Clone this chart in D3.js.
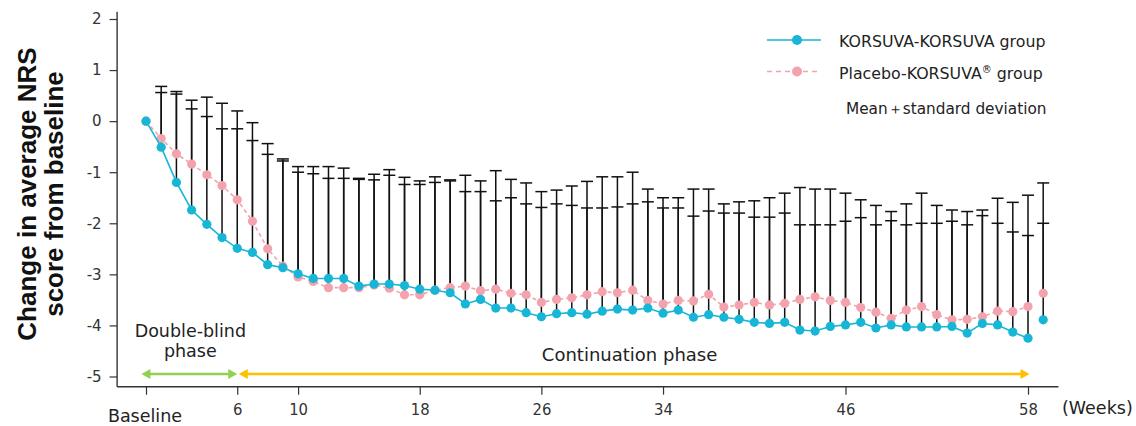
<!DOCTYPE html>
<html>
<head>
<meta charset="utf-8">
<script src="https://cdn.jsdelivr.net/npm/d3@7"></script>
<style>
  html, body { margin: 0; padding: 0; background: #fff; }
  svg { display: block; }
  .axis text { font-family: "DejaVu Sans", Verdana, sans-serif; fill: #333; }
  .xaxis text { font-family: "DejaVu Sans Condensed", "DejaVu Sans", sans-serif; font-stretch: condensed; }
</style>
</head>
<body>
<div id="chart"></div>
<script>
// NRS change from baseline, KORSUVA vs placebo -> KORSUVA

const weeks = [0, 1, 2, 3, 4, 5, 6, 7, 8, 9, 10, 11, 12, 13, 14, 15, 16, 17, 18, 19,
  20, 21, 22, 23, 24, 25, 26, 27, 28, 29, 30, 31, 32, 33, 34, 35, 36, 37, 38, 39,
  40, 41, 42, 43, 44, 45, 46, 47, 48, 49, 50, 51, 52, 53, 54, 55, 56, 57, 58, 59];
const lastVisitWeek = 58; // the point after it is drawn on its own

const korsuvaMean = [0, -0.51, -1.20, -1.74, -2.02, -2.28, -2.49, -2.57, -2.81, -2.87,
  -2.99, -3.08, -3.08, -3.08, -3.23, -3.19, -3.19, -3.22, -3.29, -3.31,
  -3.36, -3.58, -3.49, -3.66, -3.66, -3.75, -3.83, -3.77, -3.75, -3.78,
  -3.72, -3.68, -3.70, -3.66, -3.76, -3.70, -3.84, -3.79, -3.84, -3.88,
  -3.94, -3.96, -3.94, -4.09, -4.11, -4.02, -3.99, -3.94, -4.05, -3.99,
  -4.03, -4.03, -4.03, -4.02, -4.15, -3.96, -3.99, -4.13, -4.25, -3.89];

const placeboMean = [0, -0.34, -0.64, -0.84, -1.05, -1.26, -1.54, -1.96, -2.50, -2.84,
  -3.05, -3.14, -3.26, -3.26, -3.26, -3.21, -3.27, -3.40, -3.40, -3.31,
  -3.26, -3.23, -3.32, -3.29, -3.37, -3.40, -3.55, -3.49, -3.46, -3.40,
  -3.34, -3.36, -3.31, -3.51, -3.58, -3.51, -3.52, -3.39, -3.64, -3.60,
  -3.55, -3.60, -3.57, -3.49, -3.44, -3.51, -3.55, -3.65, -3.74, -3.86,
  -3.70, -3.63, -3.79, -3.89, -3.88, -3.83, -3.72, -3.73, -3.63, -3.37];

// mean + standard deviation (no bar at baseline)
const korsuvaUpper = [null, 0.68, 0.58, 0.41, 0.47, 0.35, 0.20, -0.03, -0.44, -0.74,
  -0.89, -0.89, -0.89, -0.92, -1.12, -1.04, -0.95, -1.10, -1.17, -1.09,
  -1.15, -1.06, -1.17, -0.97, -1.14, -1.21, -1.38, -1.35, -1.27, -1.18,
  -1.09, -1.09, -1.00, -1.33, -1.50, -1.50, -1.33, -1.33, -1.62, -1.58,
  -1.56, -1.50, -1.41, -1.30, -1.33, -1.33, -1.41, -1.54, -1.65, -1.77,
  -1.62, -1.41, -1.65, -1.74, -1.77, -1.74, -1.51, -1.59, -1.45, -1.21];

const placeboUpper = [null, 0.56, 0.53, 0.24, 0.09, -0.15, -0.15, -0.38, -0.65, -0.78,
  -1.00, -1.03, -1.12, -1.12, -1.14, -1.15, -1.06, -1.24, -1.24, -1.20,
  -1.17, -1.38, -1.38, -1.56, -1.50, -1.62, -1.69, -1.62, -1.65, -1.70,
  -1.70, -1.68, -1.62, -1.58, -1.70, -1.70, -1.86, -1.76, -1.80, -1.80,
  -1.88, -1.88, -1.80, -2.03, -2.03, -2.03, -1.96, -1.89, -2.03, -1.95,
  -2.03, -2.00, -2.00, -1.96, -2.03, -1.85, -2.00, -2.17, -2.24, -2.00];

const xTicks = [0, 6, 10, 18, 26, 34, 46, 58];
const yTicks = [-5, -4, -3, -2, -1, 0, 1, 2];

const phases = [
  { label: ['Double-blind', 'phase'], start: -0.3, end: 6, color: '#92d050' },
  { label: ['Continuation phase'], start: 6.1, end: 58.1, color: '#ffc000' }
];

const KORSUVA_COLOR = '#17b6d6';
const PLACEBO_COLOR = '#f3a3ad';

const W = 1136, H = 426;
const svg = d3.select('#chart').append('svg').attr('width', W).attr('height', H);

const x = d3.scaleLinear().domain([0, 58]).range([146, 1028]);
const y = d3.scaleLinear().domain([-5, 2]).range([376.5, 19]);

const xAxisY = y(-5.2);
const yAxisX = x(-1.9);

// build rows
const rows = weeks.map(function (w, i) {
  return {
    week: w,
    korsuva: korsuvaMean[i],
    placebo: placeboMean[i],
    kUp: korsuvaUpper[i],
    pUp: placeboUpper[i]
  };
});
const visitRows = rows.filter(function (d) { return d.week <= lastVisitWeek; });

// y axis (plain hyphen for negatives, like the original)
const yAxisG = svg.append('g').attr('class', 'axis yaxis')
  .attr('transform', 'translate(' + yAxisX + ',0)')
  .call(d3.axisLeft(y).tickValues(yTicks).tickSize(7.5).tickPadding(8)
    .tickFormat(function (d) { return String(d); }));
yAxisG.select('.domain').remove();
yAxisG.selectAll('line').attr('stroke', '#333').attr('stroke-width', 1.2);
yAxisG.selectAll('text').style('font-size', '15px');
svg.append('line')
  .attr('x1', yAxisX).attr('x2', yAxisX)
  .attr('y1', y(2.14)).attr('y2', xAxisY)
  .attr('stroke', '#333').attr('stroke-width', 1.4);

// x axis
const xAxisG = svg.append('g').attr('class', 'axis xaxis')
  .attr('transform', 'translate(0,' + xAxisY + ')')
  .call(d3.axisBottom(x).tickValues(xTicks).tickSize(8).tickPadding(9)
    .tickFormat(function (d) { return d === 0 ? '' : d; }));
xAxisG.select('.domain').remove();
xAxisG.selectAll('line').attr('stroke', '#333').attr('stroke-width', 1.2);
xAxisG.selectAll('text').style('font-size', '16.5px');
svg.append('line')
  .attr('x1', yAxisX).attr('x2', x(60))
  .attr('y1', xAxisY).attr('y2', xAxisY)
  .attr('stroke', '#333').attr('stroke-width', 1.4);

svg.append('text')
  .attr('x', x(0) - 1).attr('y', 422)
  .attr('text-anchor', 'middle')
  .style('font-family', '"DejaVu Sans", sans-serif')
  .style('font-size', '17.5px').style('fill', '#222')
  .text('Baseline');

svg.append('text')
  .attr('x', 1062).attr('y', 414)
  .style('font-family', '"DejaVu Sans", sans-serif')
  .style('font-size', '17.5px').style('fill', '#222')
  .text('(Weeks)');

// y title
const yTitle = svg.append('text')
  .attr('transform', 'translate(36,194) rotate(-90)')
  .attr('text-anchor', 'middle')
  .style('font-family', '"Liberation Sans", Arial, sans-serif')
  .style('font-weight', 'bold')
  .style('font-size', '26px')
  .style('fill', '#111');
yTitle.append('tspan').attr('x', 0).attr('dy', 0).text('Change in average NRS');
yTitle.append('tspan').attr('x', 0).attr('dy', 27).text('score from baseline');

// phase arrows
phases.forEach(function (p) {
  const x1 = x(p.start), x2 = x(p.end), yy = y(-5) - 2.5;
  const g = svg.append('g');
  g.append('line')
    .attr('x1', x1 + 6).attr('x2', x2 - 6)
    .attr('y1', yy).attr('y2', yy)
    .attr('stroke', p.color).attr('stroke-width', 2.5);
  g.append('path')
    .attr('d', 'M' + x1 + ',' + yy + 'L' + (x1 + 9) + ',' + (yy - 5) + 'L' + (x1 + 9) + ',' + (yy + 5) + 'Z')
    .attr('fill', p.color);
  g.append('path')
    .attr('d', 'M' + x2 + ',' + yy + 'L' + (x2 - 9) + ',' + (yy - 5) + 'L' + (x2 - 9) + ',' + (yy + 5) + 'Z')
    .attr('fill', p.color);
});

const phaseText = svg.append('g')
  .style('font-family', '"DejaVu Sans", sans-serif')
  .style('fill', '#222');
phaseText.append('text')
  .attr('x', (x(-0.3) + x(6)) / 2 + 1).attr('y', 337)
  .attr('text-anchor', 'middle').style('font-size', '17.5px')
  .text(phases[0].label[0]);
phaseText.append('text')
  .attr('x', (x(-0.3) + x(6)) / 2 + 1).attr('y', 357)
  .attr('text-anchor', 'middle').style('font-size', '17.5px')
  .text(phases[0].label[1]);
phaseText.append('text')
  .attr('x', x(31.8)).attr('y', 361)
  .attr('text-anchor', 'middle')
  .style('font-size', '18px')
  .text(phases[1].label[0]);

// error bars (mean -> mean + SD), both groups in black
const CAP = 6;
const bars = svg.append('g').attr('class', 'errorbars')
  .attr('stroke', '#111').attr('stroke-width', 1.5);
['korsuva', 'placebo'].forEach(function (key) {
  const upKey = key === 'korsuva' ? 'kUp' : 'pUp';
  const withBar = rows.filter(function (d) { return d[upKey] !== null; });
  bars.selectAll('.v-' + key).data(withBar).enter().append('line')
    .attr('x1', function (d) { return x(d.week); })
    .attr('x2', function (d) { return x(d.week); })
    .attr('y1', function (d) { return y(d[key]); })
    .attr('y2', function (d) { return y(d[upKey]); });
  bars.selectAll('.c-' + key).data(withBar).enter().append('line')
    .attr('x1', function (d) { return x(d.week) - CAP; })
    .attr('x2', function (d) { return x(d.week) + CAP; })
    .attr('y1', function (d) { return y(d[upKey]); })
    .attr('y2', function (d) { return y(d[upKey]); });
});

// placebo -> KORSUVA group (dashed)
const lineP = d3.line().x(function (d) { return x(d.week); }).y(function (d) { return y(d.placebo); });
svg.append('path').datum(visitRows)
  .attr('d', lineP).attr('fill', 'none')
  .attr('stroke', PLACEBO_COLOR).attr('stroke-width', 1.6)
  .attr('stroke-dasharray', '4,3');
svg.append('g').selectAll('circle').data(rows).enter().append('circle')
  .attr('cx', function (d) { return x(d.week); })
  .attr('cy', function (d) { return y(d.placebo); })
  .attr('r', 4.6)
  .attr('fill', PLACEBO_COLOR);

// KORSUVA -> KORSUVA group
const lineK = d3.line().x(function (d) { return x(d.week); }).y(function (d) { return y(d.korsuva); });
svg.append('path').datum(visitRows)
  .attr('d', lineK).attr('fill', 'none')
  .attr('stroke', KORSUVA_COLOR).attr('stroke-width', 1.6);
svg.append('g').selectAll('circle').data(rows).enter().append('circle')
  .attr('cx', function (d) { return x(d.week); })
  .attr('cy', function (d) { return y(d.korsuva); })
  .attr('r', 4.6)
  .attr('fill', KORSUVA_COLOR);

// legend
const legend = svg.append('g').attr('class', 'legend')
  .style('font-family', '"DejaVu Sans", sans-serif')
  .style('font-size', '15.8px').style('fill', '#222');

legend.append('line').attr('x1', 767).attr('x2', 821).attr('y1', 40).attr('y2', 40)
  .attr('stroke', KORSUVA_COLOR).attr('stroke-width', 1.6);
legend.append('circle').attr('cx', 797).attr('cy', 40).attr('r', 5).attr('fill', KORSUVA_COLOR);
legend.append('text').attr('x', 839).attr('y', 46.5).text('KORSUVA-KORSUVA group');

legend.append('line').attr('x1', 767).attr('x2', 821).attr('y1', 71.5).attr('y2', 71.5)
  .attr('stroke', PLACEBO_COLOR).attr('stroke-width', 1.6).attr('stroke-dasharray', '5,4');
legend.append('circle').attr('cx', 797).attr('cy', 71.5).attr('r', 5).attr('fill', PLACEBO_COLOR);
const pText = legend.append('text').attr('x', 839).attr('y', 78.5);
pText.append('tspan').text('Placebo-KORSUVA');
pText.append('tspan').attr('dy', -6).style('font-size', '10px').text('®');
pText.append('tspan').attr('dy', 6).text(' group');

legend.append('text').attr('x', 846).attr('y', 114).style('font-size', '15.3px')
  .text('Mean＋standard deviation');
</script>
</body>
</html>
